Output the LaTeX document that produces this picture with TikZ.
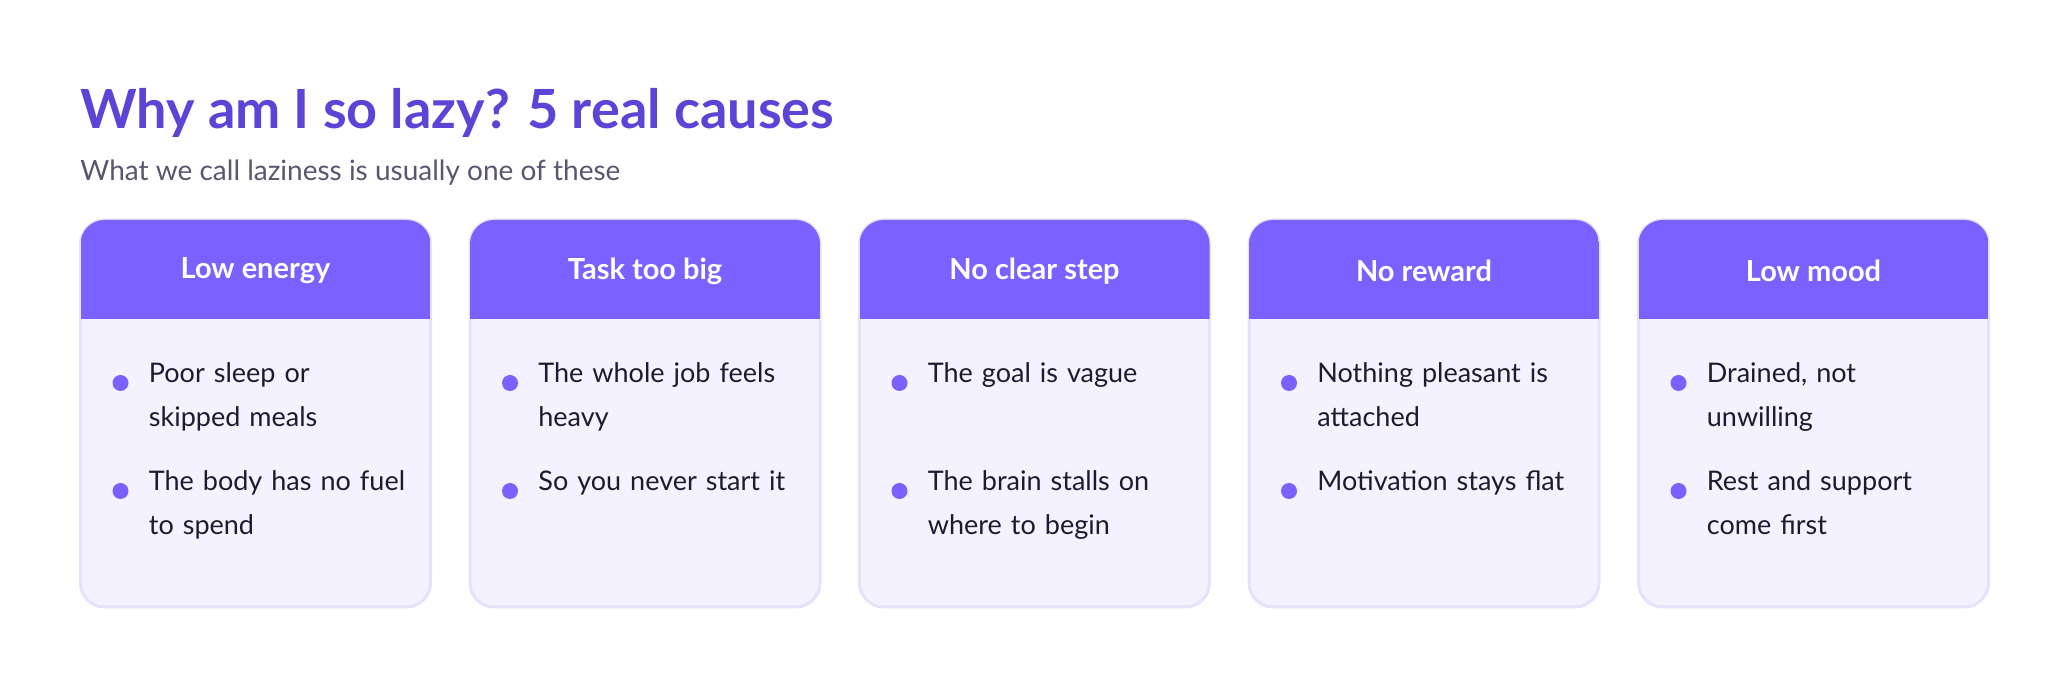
\documentclass[tikz,border=0pt]{standalone}
\usepackage{fontspec}
\setmainfont{Lato}
\usetikzlibrary{positioning}
\definecolor{titlecol}{HTML}{5B45D6}
\definecolor{subcol}{HTML}{5A5670}
\definecolor{headcol}{HTML}{7B61FF}
\definecolor{bodycol}{HTML}{F4F2FE}
\definecolor{edgecol}{HTML}{E6E2FB}
\definecolor{textcol}{HTML}{1E1B2E}
\begin{document}
\begin{tikzpicture}[x=0.5pt,y=-0.5pt,
    card/.style={fill=bodycol,draw=edgecol,line width=1.5pt,rounded corners=12pt},
    head/.style={text=white,font=\fontsize{14.5}{17}\selectfont\bfseries},
    item/.style={anchor=north west,inner sep=0pt,text width=150pt,align=left,text=textcol,
        font=\fontsize{13.5}{22}\selectfont},
    dot/.style={circle,fill=headcol,inner sep=0pt,minimum size=8pt}]
    \useasboundingbox (0,0) rectangle (2070,688);

    % title
    \node[anchor=base west,inner sep=0pt,text=titlecol,font=\fontsize{27}{32}\selectfont\bfseries] (title) at (80,129) {Why am I so lazy? 5 real causes};
    \node[anchor=base west,inner sep=0pt,text=subcol,font=\fontsize{14}{17}\selectfont] (sub) at (80,181) {What we call laziness is usually one of these};

    % cards
    \foreach \i/\hd/\a/\b in {0/{Low energy}/{Poor sleep or\\skipped meals}/{The body has no fuel\\to spend},
        1/{Task too big}/{The whole job feels\\heavy}/{So you never start it},
        2/{No clear step}/{The goal is vague}/{The brain stalls on\\where to begin},
        3/{No reward}/{Nothing pleasant is\\attached}/{Motivation stays flat},
        4/{Low mood}/{Drained, not\\unwilling}/{Rest and support\\come first}}{
        \pgfmathsetmacro{\xl}{80.5+389.5*\i}
        \draw[card] (\xl,220) rectangle ++(350,387);
        \begin{scope}
            \clip[rounded corners=12pt] (\xl,220) rectangle ++(350,150);
            \fill[headcol] (\xl,219) rectangle ++(350,100);
        \end{scope}
        \node[head] (h\i) at (\xl+175,271) {\hd};
        \node[dot] (da\i) at (\xl+40,383) {};
        \node[item] (ta\i) at (\xl+68,362) {\a};
        \node[dot] (db\i) at (\xl+40,491) {};
        \node[item] (tb\i) at (\xl+68,470) {\b};
    }
\end{tikzpicture}
\end{document}
